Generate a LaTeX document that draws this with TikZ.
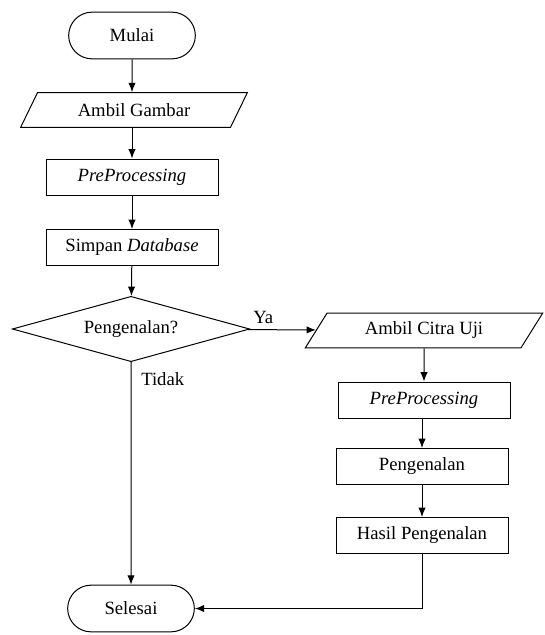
\documentclass[tikz,border=0pt]{standalone}
\usepackage{fontspec}
\setmainfont{Liberation Serif}
\usetikzlibrary{shapes.geometric,shapes.misc,arrows.meta}

\tikzset{every picture/.style={line width=0.75pt}}
\tikzset{
	terminal/.style={draw, rounded rectangle, minimum width=95pt, minimum height=35pt, inner sep=0pt},
	masukan/.style={draw, trapezium, trapezium left angle=38, trapezium right angle=142, trapezium stretches body, minimum height=26pt, inner sep=0pt},
	proses/.style={draw, rectangle, minimum width=129pt, minimum height=27pt, inner sep=0pt},
	keputusan/.style={draw, diamond, aspect=3.6, minimum width=178pt, minimum height=49pt, inner sep=0pt},
	panah/.style={-{Latex[length=7pt,width=5.5pt]}},
}

\begin{document}
\begin{tikzpicture}[x=0.75pt,y=0.75pt,yscale=-1,xscale=1,font=\fontsize{14}{17}\selectfont]
	\useasboundingbox (0,0) rectangle (545,635);

	% left column
	\node [terminal] (mulai) at (132,35.5) {Mulai};
	\node [masukan, minimum width=170pt] (ambil) at (134,110) {Ambil Gambar};
	\node [proses] (pre) at (132,177) {\textit{PreProcessing}};
	\node [proses] (simpan) at (132,247.5) {Simpan \textit{Database}};
	\node [keputusan] (kenal) at (131,329) {Pengenalan?};
	\node [terminal] (selesai) at (131,608.5) {Selesai};

	% right column
	\node [masukan, minimum width=178pt] (citra) at (424,330.5) {Ambil Citra Uji};
	\node [proses] (preuji) at (424,400) {\textit{PreProcessing}};
	\node [proses] (kenaluji) at (422,466.5) {Pengenalan};
	\node [proses] (hasil) at (422,535.5) {Hasil Pengenalan};

	% Straight Lines
	\draw [panah] (mulai) -- (mulai |- ambil.north);
	\draw [panah] (ambil.south -| pre) -- (pre);
	\draw [panah] (pre) -- (simpan);
	\draw [panah] (simpan) -- (kenal);
	\draw [panah] (kenal) -- (citra) node [midway, above=1pt, xshift=-14pt] (ya) {Ya};
	\draw [panah] (kenal) -- (selesai) node [pos=0.074, anchor=west, xshift=4pt] (tidak) {Tidak};
	\draw [panah] (citra) -- (citra |- preuji.north);
	\draw [panah] (preuji.south -| kenaluji) -- (kenaluji);
	\draw [panah] (kenaluji) -- (hasil);
	\draw [panah] (hasil) |- (selesai);

\end{tikzpicture}
\end{document}
